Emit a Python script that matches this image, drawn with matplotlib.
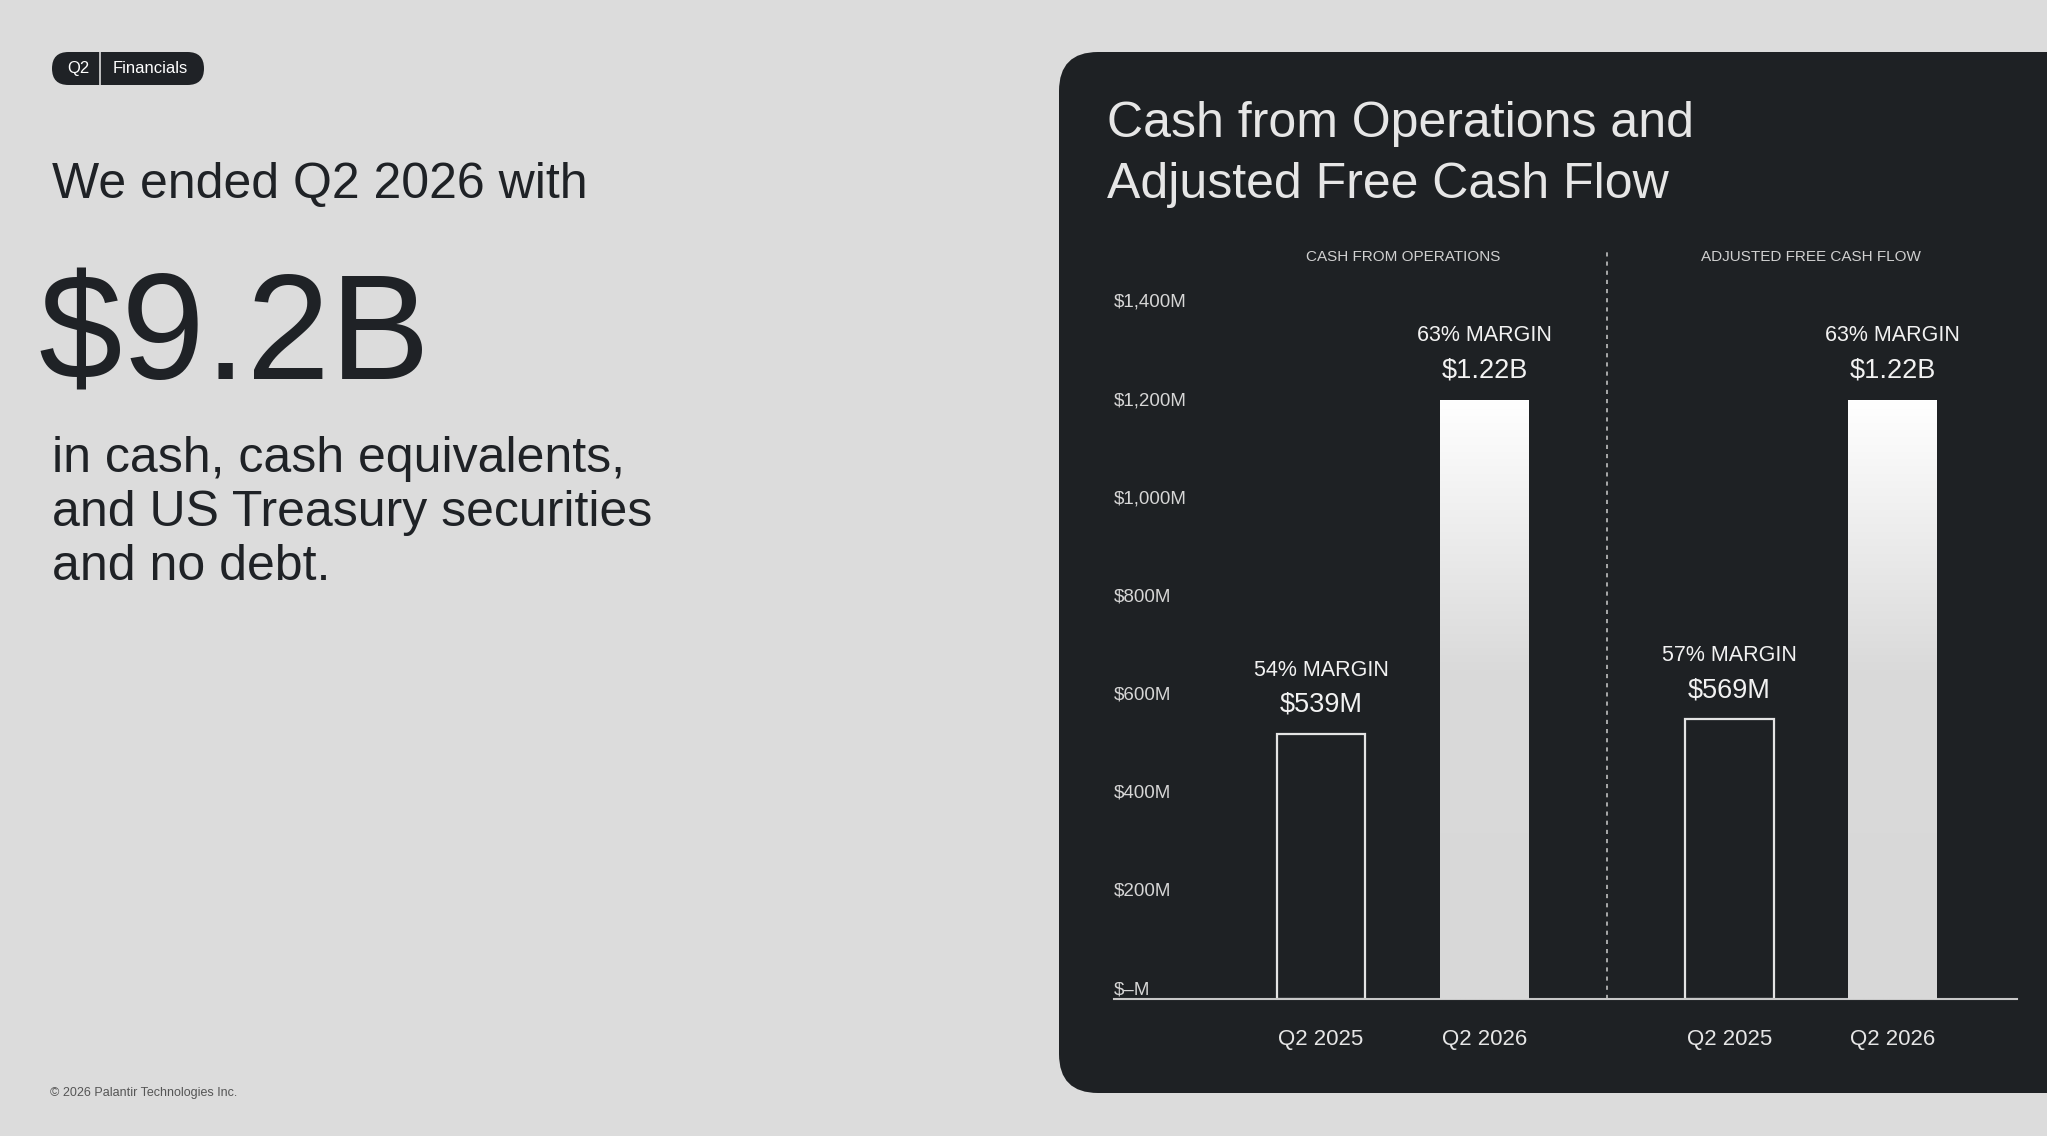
import numpy as np
import matplotlib
matplotlib.use("Agg")
import matplotlib.pyplot as plt
from matplotlib.patches import FancyBboxPatch
from matplotlib.colors import LinearSegmentedColormap

plt.rcParams['font.family'] = ['Liberation Sans', 'DejaVu Sans']

# data (millions of dollars)
groups = ["CASH FROM OPERATIONS", "ADJUSTED FREE CASH FLOW"]
periods = ["Q2 2025", "Q2 2026"]
cash_ops = [539, 1220]
adj_fcf = [569, 1220]
cash_ops_margin = ["54% MARGIN", "63% MARGIN"]
adj_fcf_margin = ["57% MARGIN", "63% MARGIN"]
cash_ops_labels = ["$539M", "$1.22B"]
adj_fcf_labels = ["$569M", "$1.22B"]
ytick_vals = [0, 200, 400, 600, 800, 1000, 1200, 1400]
ytick_labels = ["$\u2013M", "$200M", "$400M", "$600M", "$800M", "$1,000M", "$1,200M", "$1,400M"]

BG = "#dcdcdc"
PANEL = "#1e2124"
INK = "#1f2226"

fig = plt.figure(figsize=(20.47, 11.36), dpi=100, facecolor=BG)

# dark rounded panel (inches), runs past the right edge
panel = FancyBboxPatch((10.59, 0.43), 11.0, 10.41,
                       boxstyle="round,pad=0,rounding_size=0.39",
                       transform=fig.dpi_scale_trans, facecolor=PANEL,
                       edgecolor="none", zorder=-2)
fig.patches.append(panel)

# pill tag top-left
pill = FancyBboxPatch((0.52, 10.51), 1.52, 0.33,
                      boxstyle="round,pad=0,rounding_size=0.165",
                      transform=fig.dpi_scale_trans, facecolor=INK,
                      edgecolor="none", zorder=-2)
fig.patches.append(pill)
fig.add_artist(plt.Line2D([1.005, 1.005], [10.51, 10.84], transform=fig.dpi_scale_trans,
                          color=BG, lw=1.2))
fig.text(78 / 2047, 1 - 68.5 / 1136, "Q2", color="white", fontsize=12, ha="center", va="center")
fig.text(150 / 2047, 1 - 68.5 / 1136, "Financials", color="white", fontsize=12, ha="center", va="center")

# left-hand copy
fig.text(52 / 2047, 1 - 198 / 1136, "We ended Q2 2026 with", color=INK, fontsize=36,
         ha="left", va="baseline")
fig.text(38 / 2047, 1 - 380 / 1136, "$9.2B", color=INK, fontsize=108,
         ha="left", va="baseline")
for i, line in enumerate(["in cash, cash equivalents,", "and US Treasury securities", "and no debt."]):
    fig.text(52 / 2047, 1 - (472 + 54 * i) / 1136, line, color=INK, fontsize=36,
             ha="left", va="baseline")
fig.text(50 / 2047, 1 - 1093 / 1136, "\u00a9 2026 Palantir Technologies Inc.", color="#555555",
         fontsize=9, ha="left", va="center")

# panel title
fig.text(1107 / 2047, 1 - 137 / 1136, "Cash from Operations and", color="#e6e6e6",
         fontsize=36, ha="left", va="baseline")
fig.text(1107 / 2047, 1 - 198 / 1136, "Adjusted Free Cash Flow", color="#e6e6e6",
         fontsize=36, ha="left", va="baseline")

# chart
ax = fig.add_axes([0.5440, 0.1209, 0.4413, 0.6612])
ax.set_zorder(1)
ax.patch.set_alpha(0)

x_pos = [[0, 1], [2.5, 3.5]]
values = [cash_ops, adj_fcf]
margins = [cash_ops_margin, adj_fcf_margin]
labels = [cash_ops_labels, adj_fcf_labels]
width = 0.544

grad = LinearSegmentedColormap.from_list("g", [(0, "#ffffff"), (0.45, "#dadada"), (1, "#d8d8d8")])
gimg = np.linspace(0, 1, 256).reshape(-1, 1)

for g in range(2):
    for k in range(2):
        x = x_pos[g][k]
        v = values[g][k]
        if k == 0:
            ax.bar(x, v, width=width, facecolor=PANEL, edgecolor="#e4e4e4", linewidth=1.6, zorder=2)
        else:
            b = ax.bar(x, v, width=width, facecolor="#dadada", edgecolor="none", zorder=2)[0]
            im = ax.imshow(gimg, cmap=grad, aspect="auto", zorder=3,
                           extent=[x - width / 2, x + width / 2, 0, v], origin="upper")
            im.set_clip_path(b)
        ax.annotate(labels[g][k], (x, v), xytext=(0, 21), textcoords="offset points",
                    ha="center", va="center", color="#f2f2f2", fontsize=19.5)
        ax.annotate(margins[g][k], (x, v), xytext=(0, 46), textcoords="offset points",
                    ha="center", va="center", color="#f2f2f2", fontsize=15.5)
    ax.text(np.mean(x_pos[g]), 1511, groups[g], ha="center", va="center",
            color="#d0d0d0", fontsize=11)

ax.plot([1.75, 1.75], [0, 1525], color="#c0c0c0", lw=1.2, linestyle=(0, (2.5, 3)), zorder=1)

# y labels sit just above their values, left-aligned at the axis start
for val, lab in zip(ytick_vals, ytick_labels):
    ax.annotate(lab, (0, val), xycoords=ax.get_yaxis_transform(), xytext=(0, 6.5),
                textcoords="offset points", ha="left", va="center",
                color="#d6d6d6", fontsize=13.5)

ax.set_xlim(-1.27, 4.26)
ax.set_ylim(0, 1530)
ax.set_xticks([p for grp in x_pos for p in grp])
ax.set_xticklabels(periods * 2, color="#e6e6e6", fontsize=16)
ax.set_yticks([])
ax.tick_params(axis="x", length=0, pad=22)
for s in ["top", "right", "left"]:
    ax.spines[s].set_visible(False)
ax.spines["bottom"].set_color("#c8c8c8")
ax.spines["bottom"].set_linewidth(1.5)

fig.savefig("out.png", dpi=100, facecolor=BG)
